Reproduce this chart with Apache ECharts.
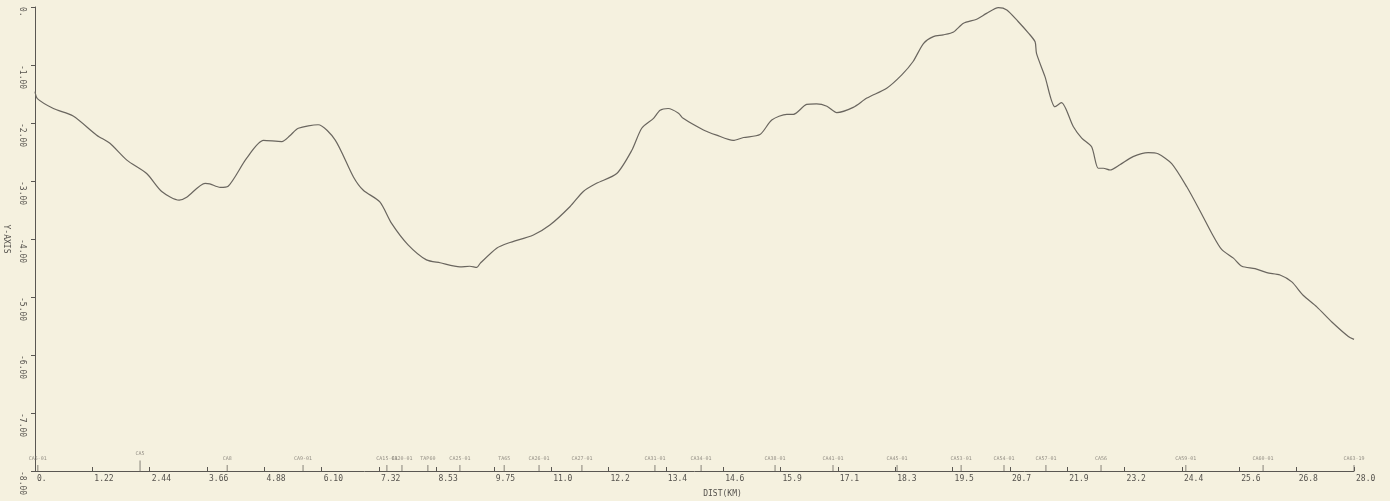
<!DOCTYPE html>
<html>
<head>
<meta charset="utf-8">
<script src="https://cdn.jsdelivr.net/npm/echarts@6/dist/echarts.min.js"></script>
<style>
html,body{margin:0;padding:0;background:#f5f1df;}
#c{width:1390px;height:501px;}
</style>
</head>
<body>
<div id="c"></div>
<script>
// Profile: distance (km) and Y value
const distKm = [0, 0.05, 0.39, 0.81, 1.31, 1.59, 1.95, 2.37, 2.69, 3.06, 3.22, 3.61, 3.71, 3.93, 4.10, 4.49, 4.85, 5.24, 5.41, 5.59, 6.01, 6.37, 6.76, 6.97, 7.32, 7.57, 7.92, 8.31, 8.60, 9.02, 9.23, 9.38, 9.45, 9.80, 10.05, 10.58, 10.93, 11.36, 11.64, 11.92, 12.35, 12.67, 12.88, 13.13, 13.27, 13.44, 13.66, 13.76, 14.19, 14.47, 14.82, 15.04, 15.39, 15.64, 15.96, 16.10, 16.38, 16.59, 16.81, 17.02, 17.37, 17.66, 18.08, 18.40, 18.64, 18.86, 19.07, 19.28, 19.50, 19.71, 19.99, 20.20, 20.45, 20.63, 20.87, 21.09, 21.23, 21.26, 21.44, 21.65, 21.79, 22.04, 22.22, 22.43, 22.57, 22.68, 22.82, 23.03, 23.31, 23.63, 23.84, 24.13, 24.45, 24.76, 24.98, 25.19, 25.44, 25.62, 25.90, 26.15, 26.43, 26.68, 26.92, 27.21, 27.53, 27.88, 28.00];
const yValues = [-1.46, -1.58, -1.75, -1.88, -2.21, -2.35, -2.64, -2.87, -3.18, -3.33, -3.28, -3.04, -3.05, -3.11, -3.09, -2.61, -2.30, -2.32, -2.22, -2.09, -2.03, -2.29, -2.93, -3.16, -3.36, -3.73, -4.10, -4.36, -4.41, -4.48, -4.47, -4.49, -4.42, -4.16, -4.07, -3.93, -3.76, -3.44, -3.18, -3.04, -2.87, -2.47, -2.09, -1.92, -1.78, -1.75, -1.83, -1.92, -2.12, -2.21, -2.30, -2.25, -2.20, -1.95, -1.85, -1.85, -1.68, -1.67, -1.71, -1.82, -1.73, -1.57, -1.40, -1.17, -0.94, -0.63, -0.51, -0.48, -0.43, -0.28, -0.21, -0.11, -0.01, -0.05, -0.25, -0.45, -0.60, -0.80, -1.20, -1.72, -1.65, -2.06, -2.26, -2.41, -2.78, -2.78, -2.81, -2.72, -2.58, -2.51, -2.53, -2.70, -3.10, -3.56, -3.90, -4.18, -4.33, -4.47, -4.51, -4.58, -4.62, -4.74, -4.97, -5.17, -5.43, -5.68, -5.73];

// Station marks along the distance axis
const stationKm = [0.06, 2.23, 4.08, 5.69, 7.47, 7.79, 8.34, 9.02, 9.96, 10.70, 11.61, 13.16, 14.14, 15.71, 16.94, 18.30, 19.66, 20.57, 21.46, 22.63, 24.43, 26.07, 28.0];
const stationNames = ['CA5-01', 'CA5', 'CA8', 'CA9-01', 'CA15-01', 'CA20-01', 'TAP60', 'CA25-01', 'TA65', 'CA26-01', 'CA27-01', 'CA31-01', 'CA34-01', 'CA38-01', 'CA41-01', 'CA45-01', 'CA53-01', 'CA54-01', 'CA57-01', 'CA56', 'CA59-01', 'CA60-01', 'CA63-19'];

// Axis tick labels
const xTickLabels = ['0.', '1.22', '2.44', '3.66', '4.88', '6.10', '7.32', '8.53', '9.75', '11.0', '12.2', '13.4', '14.6', '15.9', '17.1', '18.3', '19.5', '20.7', '21.9', '23.2', '24.4', '25.6', '26.8', '28.0'];
const yTickLabels = ['-8.00', '-7.00', '-6.00', '-5.00', '-4.00', '-3.00', '-2.00', '-1.00', '0.'];

const xMax = 28.0;
const xStep = xMax / (xTickLabels.length - 1);
const xTickValues = xTickLabels.map((_, i) => i * xStep);

const axisColor = '#5a5752';
const textColor = '#55524d';
const font = '"DejaVu Sans Mono", "Liberation Mono", monospace';

const chart = echarts.init(document.getElementById('c'), null, {renderer: 'canvas'});
chart.setOption({
  backgroundColor: '#f5f1df',
  animation: false,
  grid: {left: 35, right: 36, top: 7, bottom: 30, containLabel: false, outerBoundsMode: 'none'},
  xAxis: {
    type: 'value', min: 0, max: xMax,
    name: 'DIST(KM)', nameLocation: 'middle', nameGap: 19,
    nameTextStyle: {color: textColor, fontSize: 8, fontFamily: font, padding: [0, 0, 0, 56]},
    axisLine: {show: true, onZero: false, lineStyle: {color: axisColor, width: 1}},
    axisTick: {show: true, length: 4, inside: true, customValues: xTickValues, lineStyle: {color: axisColor}},
    axisLabel: {
      customValues: xTickValues, color: textColor, fontSize: 8, fontFamily: font, margin: 4,
      align: 'left', padding: [0, 0, 0, 2],
      formatter: v => xTickLabels[Math.round(v / xStep)]
    },
    splitLine: {show: false}
  },
  yAxis: {
    type: 'value', min: -8, max: 0, interval: 1,
    name: 'Y-AXIS', nameLocation: 'middle', nameGap: 25, nameRotate: -90,
    nameTextStyle: {color: textColor, fontSize: 8, fontFamily: font},
    axisLine: {show: true, onZero: false, lineStyle: {color: axisColor, width: 1}},
    axisTick: {show: true, length: 4, lineStyle: {color: axisColor}},
    axisLabel: {
      rotate: -90, color: textColor, fontSize: 8, fontFamily: font, margin: 13,
      align: 'left', verticalAlign: 'middle',
      formatter: v => yTickLabels[Math.round(v + 8)]
    },
    splitLine: {show: false}
  },
  series: [
    {
      type: 'line', data: distKm.map((d, i) => [d, yValues[i]]),
      showSymbol: false, smooth: 0.25, clip: false,
      lineStyle: {color: '#6a665f', width: 1.2}
    },
    {
      type: 'scatter', silent: true, clip: false,
      data: stationKm.map((d, i) => ({
        value: [d, -8],
        symbolSize: i === 1 ? [1, 11] : [1, 6],
        symbolOffset: i === 1 ? [0, -5] : [0, -3],
        label: {formatter: stationNames[i]}
      })),
      symbol: 'rect',
      itemStyle: {color: '#6a665f'},
      label: {show: true, position: 'top', distance: 4, fontSize: 5, color: '#7a766e', fontFamily: font}
    }
  ]
});
</script>
</body>
</html>
